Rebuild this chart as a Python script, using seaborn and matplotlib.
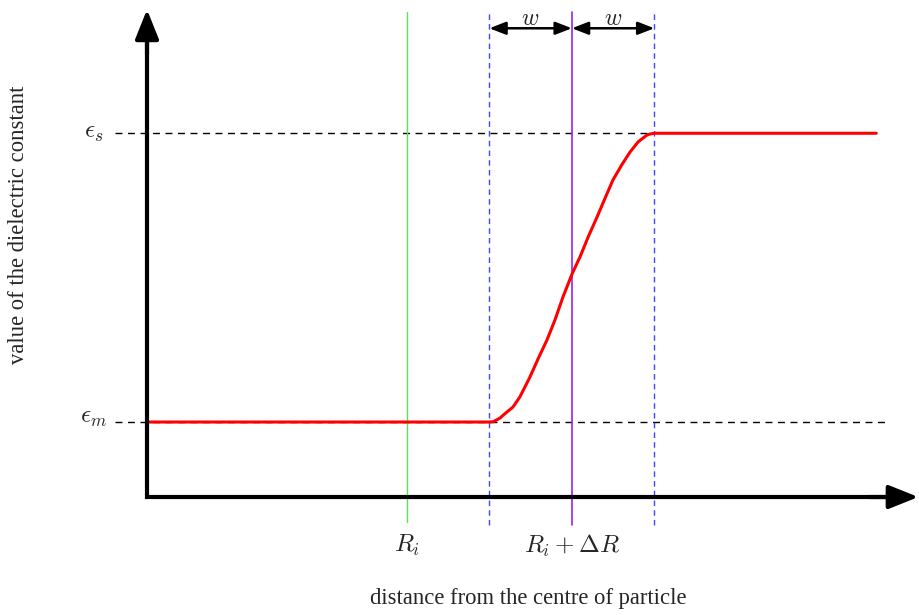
import numpy as np
import pandas as pd
import seaborn as sns
import matplotlib.pyplot as plt

sns.set_style("white")
plt.rcParams['font.family'] = ['Liberation Serif', 'DejaVu Serif']
plt.rcParams['mathtext.fontset'] = 'cm'

# schematic values (w = 1 unit)
R_i = 3.15
dR = 2.0
w = 1.0
eps_m = 1.0
eps_s = 4.85

# dielectric profile
r = [0.0, 4.145, 4.198, 4.279, 4.319, 4.436, 4.521, 4.642, 4.743, 4.848, 4.945,
     5.042, 5.152, 5.248, 5.349, 5.455, 5.552, 5.648, 5.754, 5.855, 5.955,
     6.061, 6.097, 6.145, 8.84]
eps = [1.0, 1.0, 1.004, 1.053, 1.093, 1.2, 1.337, 1.6, 1.849, 2.093, 2.36,
       2.667, 2.973, 3.2, 3.471, 3.733, 3.983, 4.227, 4.427, 4.6, 4.737,
       4.827, 4.84, 4.85, 4.85]
df = pd.DataFrame({'r': r, 'eps': eps})

x_end = 9.35
y_top = 6.5

fig = plt.figure(figsize=(9.2, 6.15), dpi=100)
ax = fig.add_axes([0, 0, 1, 1])
ax.set_xlim(-1.782, 9.370)
ax.set_ylim(-1.573, 6.627)
ax.axis('off')

# dashed reference levels
ax.plot([-0.39, R_i + dR + w], [eps_s, eps_s], color='black', lw=1.0, dashes=(5, 4))
ax.plot([-0.39, 8.95], [eps_m, eps_m], color='black', lw=1.0, dashes=(5, 4))

# vertical markers
ax.plot([R_i, R_i], [-0.33, 6.47], color='#55e655', lw=1.0)
ax.plot([R_i + dR, R_i + dR], [-0.37, 6.47], color='#9922ee', lw=1.2)
for xv in [R_i + dR - w, R_i + dR + w]:
    ax.plot([xv, xv], [-0.37, 6.47], color='#4444ff', lw=1.0, dashes=(4, 3))

# profile curve
sns.lineplot(data=df, x='r', y='eps', color='red', lw=2.2, ax=ax, sort=False)

# axes with arrows
ax.plot([0, 0, x_end - 0.2], [y_top - 0.2, 0, 0], color='black', lw=3,
        solid_joinstyle='miter', solid_capstyle='butt')
head = dict(arrowstyle='-|>,head_length=0.9,head_width=0.36', color='black',
            lw=3, mutation_scale=20, shrinkA=0, shrinkB=0)
ax.annotate('', xy=(0, y_top), xytext=(0, y_top - 0.6), arrowprops=head)
ax.annotate('', xy=(x_end, 0), xytext=(x_end - 0.6, 0), arrowprops=head)

# width arrows
small = dict(arrowstyle='<|-|>,head_length=0.9,head_width=0.35', color='black',
             lw=1.8, mutation_scale=11, shrinkA=0, shrinkB=0)
y_w = 6.25
ax.annotate('', xy=(R_i + dR - w, y_w), xytext=(R_i + dR, y_w), arrowprops=small)
ax.annotate('', xy=(R_i + dR, y_w), xytext=(R_i + dR + w, y_w), arrowprops=small)
ax.text(R_i + dR - w / 2, 6.37, r'$w$', ha='center', va='center', fontsize=17)
ax.text(R_i + dR + w / 2, 6.37, r'$w$', ha='center', va='center', fontsize=17)

# labels
ax.text(-0.65, eps_s, r'$\epsilon_s$', ha='center', va='center', fontsize=18)
ax.text(-0.65, eps_m + 0.05, r'$\epsilon_m$', ha='center', va='center', fontsize=18)
ax.text(R_i, -0.65, r'$R_i$', ha='center', va='center', fontsize=18)
ax.text(R_i + dR, -0.65, r'$R_i + \Delta R$', ha='center', va='center', fontsize=18)
ax.text(4.62, -1.35, 'distance from the centre of particle', ha='center', va='center', fontsize=16.3)
ax.text(-1.56, 3.63, 'value of the dielectric constant', ha='center', va='center',
        rotation=90, fontsize=16.3)

fig.savefig('out.png', dpi=100)
